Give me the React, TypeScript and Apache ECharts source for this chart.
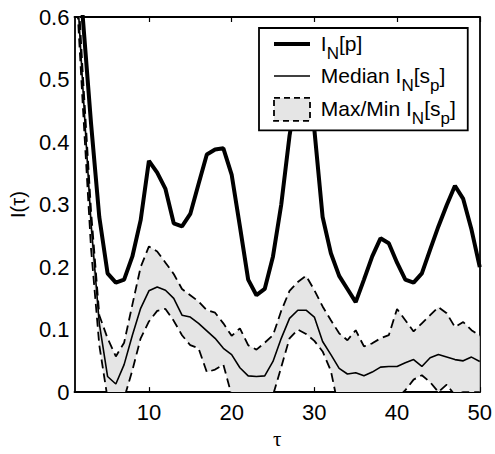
import React, { useEffect, useRef } from "react";
import * as echarts from "echarts";

const tau = [1, 2, 3, 4, 5, 6, 7, 8, 9, 10, 11, 12, 13, 14, 15, 16, 17, 18, 19, 20, 21, 22, 23, 24, 25, 26, 27, 28, 29, 30, 31, 32, 33, 34, 35, 36, 37, 38, 39, 40, 41, 42, 43, 44, 45, 46, 47, 48, 49, 50];

const inP = [0.80, 0.60, 0.43, 0.28, 0.19, 0.175, 0.18, 0.217, 0.275, 0.37, 0.351, 0.325, 0.27, 0.265, 0.285, 0.333, 0.38, 0.388, 0.39, 0.348, 0.265, 0.18, 0.155, 0.165, 0.217, 0.30, 0.41, 0.49, 0.50, 0.42, 0.28, 0.222, 0.186, 0.165, 0.144, 0.18, 0.217, 0.246, 0.238, 0.207, 0.18, 0.175, 0.19, 0.228, 0.265, 0.299, 0.33, 0.309, 0.26, 0.20];

const medianS = [0.72, 0.49, 0.27, 0.11, 0.025, 0.013, 0.044, 0.091, 0.134, 0.162, 0.168, 0.163, 0.15, 0.123, 0.12, 0.11, 0.098, 0.086, 0.07, 0.06, 0.039, 0.026, 0.025, 0.026, 0.049, 0.086, 0.118, 0.131, 0.131, 0.12, 0.081, 0.06, 0.038, 0.029, 0.031, 0.026, 0.032, 0.04, 0.041, 0.041, 0.047, 0.052, 0.041, 0.055, 0.06, 0.056, 0.052, 0.05, 0.056, 0.049];

const maxS = [0.75, 0.51, 0.29, 0.123, 0.086, 0.057, 0.079, 0.14, 0.2, 0.233, 0.225, 0.207, 0.189, 0.165, 0.155, 0.145, 0.131, 0.127, 0.11, 0.09, 0.102, 0.075, 0.068, 0.079, 0.091, 0.13, 0.162, 0.176, 0.186, 0.163, 0.137, 0.115, 0.094, 0.083, 0.099, 0.073, 0.078, 0.086, 0.091, 0.133, 0.115, 0.097, 0.11, 0.123, 0.136, 0.126, 0.104, 0.112, 0.099, 0.09];

const minS = [0.70, 0.46, 0.23, 0.075, -0.01, -0.04, -0.01, 0.035, 0.086, 0.113, 0.13, 0.133, 0.114, 0.091, 0.075, 0.07, 0.032, 0.036, 0.044, -0.005, -0.03, -0.04, -0.04, -0.03, -0.005, 0.04, 0.086, 0.1, 0.093, 0.082, 0.065, 0.034, -0.03, -0.04, -0.04, -0.04, -0.04, -0.04, -0.03, -0.01, 0.003, 0.02, 0.027, 0.016, 0.0, 0.012, -0.005, 0.0, 0.0, 0.0];

const xTicks = [10, 20, 30, 40, 50];

const FONT = "'Liberation Sans', Arial, Helvetica, sans-serif";

export default function App() {
  const ref = useRef<HTMLDivElement>(null);
  useEffect(() => {
    document.body.style.margin = "0";
    const chart = echarts.init(ref.current!, undefined, { renderer: "svg" });
    const bandDiff = tau.map((_, i) => +(maxS[i] - minS[i]).toFixed(4));
    const showTick = (_i: number, v: any) => xTicks.indexOf(Number(v)) >= 0;

    const axisLineStyle = { show: true, onZero: false, lineStyle: { color: "#000", width: 1.8 } };
    const dashed = { color: "#000", width: 1.8, type: [9, 5] };

    const rich = {
      t: { fontSize: 21, fontFamily: FONT, color: "#000", lineHeight: 22, verticalAlign: "top" },
      s: { fontSize: 17, fontFamily: FONT, color: "#000", lineHeight: 17, padding: [12, 0, 0, 0], verticalAlign: "top" },
    };

    const option: any = {
      animation: false,
      textStyle: { fontFamily: FONT },
      grid: { left: 73, right: 13, top: 17, bottom: 56, show: false },
      xAxis: [
        {
          type: "category",
          data: tau,
          boundaryGap: false,
          position: "bottom",
          axisLine: axisLineStyle,
          splitLine: { show: false },
          axisTick: { inside: true, length: 5, interval: showTick, lineStyle: { color: "#000", width: 1.2 } },
          axisLabel: { interval: showTick, fontSize: 22, color: "#000", margin: 9, fontFamily: FONT },
          name: "τ",
          nameLocation: "middle",
          nameGap: 23,
          nameTextStyle: { fontSize: 21, color: "#000", fontFamily: "'Liberation Serif', 'DejaVu Serif', serif" },
        },
        {
          type: "category",
          data: tau,
          boundaryGap: false,
          position: "top",
          axisLine: axisLineStyle,
          splitLine: { show: false },
          axisTick: { inside: true, length: 5, interval: showTick, lineStyle: { color: "#000", width: 1.2 } },
          axisLabel: { show: false },
        },
      ],
      yAxis: [
        {
          type: "value",
          position: "left",
          min: 0,
          max: 0.6,
          interval: 0.1,
          axisLine: axisLineStyle,
          splitLine: { show: false },
          axisTick: { inside: true, length: 5, lineStyle: { color: "#000", width: 1.2 } },
          axisLabel: { fontSize: 22, color: "#000", margin: 5, fontFamily: FONT },
          name: "I(τ)",
          nameLocation: "middle",
          nameRotate: 90,
          nameGap: 44,
          nameTextStyle: { fontSize: 20, color: "#000", fontFamily: FONT },
        },
        {
          type: "value",
          position: "right",
          min: 0,
          max: 0.6,
          interval: 0.1,
          axisLine: axisLineStyle,
          splitLine: { show: false },
          axisTick: { inside: true, length: 5, lineStyle: { color: "#000", width: 1.2 } },
          axisLabel: { show: false },
        },
      ],
      legend: {
        show: true,
        orient: "vertical",
        left: 259,
        top: 28,
        padding: [5, 12, 3, 13],
        itemGap: 3,
        itemWidth: 36,
        itemHeight: 23,
        backgroundColor: "#fff",
        borderColor: "#000",
        borderWidth: 1.8,
        borderRadius: 0,
        selectedMode: false,
        z: 10,
        data: [
          { name: "I_N[p]", itemStyle: { opacity: 0 }, lineStyle: { width: 4, color: "#000" } },
          { name: "Median", itemStyle: { opacity: 0 }, lineStyle: { width: 1.5, color: "#000" } },
          {
            name: "Max/Min",
            icon: "rect",
            itemStyle: { color: "#e5e5e5", borderColor: "#000", borderWidth: 1.8, borderType: [6, 4] },
          },
        ],
        formatter: (name: string) => {
          if (name === "I_N[p]") return "{t| I}{s|N}{t|[p]}";
          if (name === "Median") return "{t| Median I}{s|N}{t|[s}{s|p}{t|]}";
          return "{t| Max/Min I}{s|N}{t|[s}{s|p}{t|]}";
        },
        textStyle: { rich },
      },
      series: [
        {
          name: "bandBase",
          type: "line",
          data: minS,
          stack: "band",
          stackStrategy: "all",
          symbol: "none",
          silent: true,
          lineStyle: { width: 0, opacity: 0 },
          z: 1,
        },
        {
          name: "Max/Min",
          type: "line",
          data: bandDiff,
          stack: "band",
          stackStrategy: "all",
          symbol: "none",
          silent: true,
          lineStyle: { width: 0, opacity: 0 },
          itemStyle: { color: "#e5e5e5" },
          areaStyle: { color: "#e5e5e5", opacity: 1 },
          z: 1,
        },
        {
          name: "Max",
          type: "line",
          data: maxS,
          symbol: "none",
          lineStyle: dashed,
          itemStyle: { color: "#000" },
          z: 3,
        },
        {
          name: "Min",
          type: "line",
          data: minS,
          symbol: "none",
          lineStyle: dashed,
          itemStyle: { color: "#000" },
          z: 3,
        },
        {
          name: "Median",
          type: "line",
          data: medianS,
          symbol: "none",
          lineStyle: { color: "#000", width: 1.6 },
          itemStyle: { color: "#000" },
          z: 4,
        },
        {
          name: "I_N[p]",
          type: "line",
          data: inP,
          symbol: "none",
          lineStyle: { color: "#000", width: 4 },
          itemStyle: { color: "#000" },
          z: 5,
        },
      ],
    };
    chart.setOption(option);
    return () => chart.dispose();
  }, []);
  return <div ref={ref} style={{ position: "absolute", left: 0, top: 0, width: 495, height: 454 }} />;
}
